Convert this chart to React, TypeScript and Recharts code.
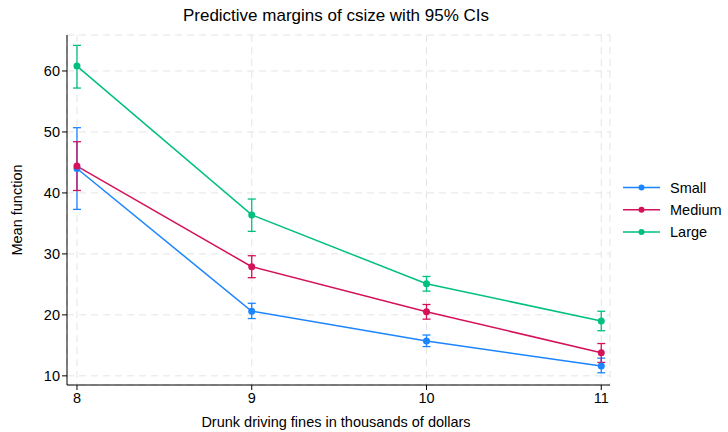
import { ComposedChart, Line, ErrorBar, XAxis, YAxis, CartesianGrid } from 'recharts';

document.body.style.margin = '0';

const fines = [8, 9, 10, 11];
const xTicks = [8, 9, 10, 11];
const yTicks = [10, 20, 30, 40, 50, 60];
const seriesNames = ['Small', 'Medium', 'Large'];

const smallMean = [44.0, 20.6, 15.7, 11.6];
const smallLo = [37.3, 19.4, 14.8, 10.5];
const smallHi = [50.7, 21.9, 16.7, 12.9];

const mediumMean = [44.4, 27.9, 20.5, 13.8];
const mediumLo = [40.4, 26.1, 19.3, 12.2];
const mediumHi = [48.4, 29.7, 21.7, 15.3];

const largeMean = [60.8, 36.4, 25.1, 19.0];
const largeLo = [57.2, 33.7, 23.9, 17.4];
const largeHi = [64.2, 39.0, 26.3, 20.6];

const seriesColors = ['#1a85ff', '#d41159', '#00bf7f'];
const seriesKeys = ['small', 'medium', 'large'];
const font = '"Liberation Sans", Arial, Helvetica, sans-serif';

const data = fines.map((x, i) => ({
    x,
    small: smallMean[i],
    smallErr: [smallMean[i] - smallLo[i], smallHi[i] - smallMean[i]],
    medium: mediumMean[i],
    mediumErr: [mediumMean[i] - mediumLo[i], mediumHi[i] - mediumMean[i]],
    large: largeMean[i],
    largeErr: [largeMean[i] - largeLo[i], largeHi[i] - largeMean[i]],
}));

function LegendBox() {
    return (
        <svg width={105} height={70} style={{ position: 'absolute', left: 623, top: 179, overflow: 'visible' }}>
            {seriesNames.map((name, i) => {
                const y = 8.5 + i * 22.3;
                const c = seriesColors[i];
                return (
                    <g key={name}>
                        <line x1={0} x2={37} y1={y} y2={y} stroke={c} strokeWidth={1.5} />
                        <circle cx={18.5} cy={y} r={3} fill={c} />
                        <text x={47} y={y + 5} fontSize={14.5} fontFamily={font} fill="#000">
                            {name}
                        </text>
                    </g>
                );
            })}
        </svg>
    );
}

export default function App() {
    return (
        <div style={{ position: 'relative', width: 728, height: 432, background: '#fff', fontFamily: font }}>
            <ComposedChart width={728} height={432} data={data} margin={{ top: 35, right: 118, bottom: 0, left: 0 }}>
                <CartesianGrid strokeDasharray="7 5" stroke="#e4e4e4" strokeWidth={1} />
                <XAxis
                    dataKey="x"
                    type="number"
                    domain={[7.943, 11.05]}
                    ticks={xTicks}
                    allowDataOverflow
                    height={47}
                    tickSize={5}
                    tickMargin={3}
                    stroke="#000"
                    tick={{ fill: '#000', fontSize: 14.5, fontFamily: font }}
                />
                <YAxis
                    type="number"
                    domain={[8.5, 65.9]}
                    ticks={yTicks}
                    allowDataOverflow
                    width={67}
                    tickSize={5}
                    tickMargin={2}
                    stroke="#000"
                    tick={{ fill: '#000', fontSize: 14.5, fontFamily: font }}
                />
                {seriesKeys.map((k, i) => (
                    <Line
                        key={k}
                        name={seriesNames[i]}
                        dataKey={k}
                        stroke={seriesColors[i]}
                        strokeWidth={1.5}
                        dot={{ r: 3.5, fill: seriesColors[i], stroke: seriesColors[i], strokeWidth: 0 }}
                        activeDot={false}
                        isAnimationActive={false}
                    >
                        <ErrorBar
                            dataKey={k + 'Err'}
                            width={4}
                            stroke={seriesColors[i]}
                            strokeWidth={1.3}
                            direction="y"
                            isAnimationActive={false}
                        />
                    </Line>
                ))}
            </ComposedChart>
            <div style={{ position: 'absolute', top: 6, left: 62, width: 548, textAlign: 'center', fontSize: 17, color: '#000' }}>
                Predictive margins of csize with 95% CIs
            </div>
            <div
                style={{
                    position: 'absolute',
                    left: 17,
                    top: 210,
                    transform: 'translate(-50%, -50%) rotate(-90deg)',
                    whiteSpace: 'nowrap',
                    fontSize: 14.5,
                    color: '#000',
                }}
            >
                Mean function
            </div>
            <div style={{ position: 'absolute', top: 414, left: 62, width: 548, textAlign: 'center', fontSize: 14.5, color: '#000' }}>
                Drunk driving fines in thousands of dollars
            </div>
            <LegendBox />
        </div>
    );
}
